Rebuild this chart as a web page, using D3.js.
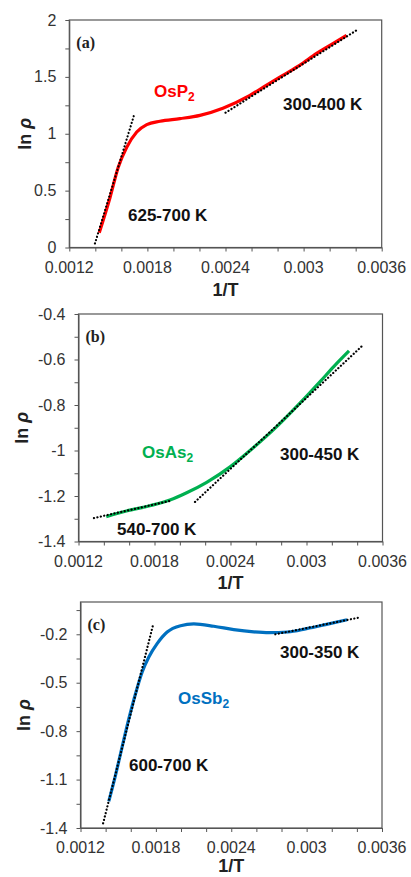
<!DOCTYPE html>
<html><head><meta charset="utf-8">
<script src="https://cdn.jsdelivr.net/npm/d3@7"></script>
<style>body{margin:0;background:#fff}svg{display:block}</style></head>
<body><svg id="chart" width="411" height="877"></svg>
<script>
// ---- data ----
const xTickLabels = [0.0012, 0.0018, 0.0024, 0.003, 0.0036];
const xMinorTicks = [0.0012,0.0014,0.0016,0.0018,0.0020,0.0022,0.0024,0.0026,0.0028,0.0030,0.0032,0.0034,0.0036];

// (a) OsP2
const ospX = [0.001430,0.001513,0.001576,0.001641,0.001718,0.001795,0.001897,0.002050,0.002204,0.002380,0.002588,0.002716,0.002844,0.002972,0.003100,0.003228,0.003330];
const ospY = [0.13,0.44,0.705,0.88,1.015,1.08,1.11,1.133,1.162,1.225,1.338,1.427,1.515,1.603,1.706,1.794,1.865];
const ospFitHighX = [0.001397,0.001697], ospFitHighY = [0.035,1.162];
const ospFitLowX = [0.002400,0.003410], ospFitLowY = [1.185,1.912];
const ospYTicks = [0,0.25,0.5,0.75,1,1.25,1.5,1.75,2];
const ospYLabels = [0,0.5,1,1.5,2];

// (b) OsAs2
const osaX = [0.001419,0.001578,0.001763,0.001922,0.002054,0.002212,0.002397,0.002582,0.002767,0.002952,0.003111,0.003217,0.003336];
const osaY = [-1.291,-1.266,-1.243,-1.218,-1.186,-1.140,-1.072,-0.987,-0.894,-0.790,-0.695,-0.630,-0.562];
const osaFitHighX = [0.001322,0.001935], osaFitHighY = [-1.297,-1.220];
const osaFitLowX = [0.002120,0.003436], osaFitLowY = [-1.226,-0.542];
const osaYTicks = [-1.4,-1.3,-1.2,-1.1,-1.0,-0.9,-0.8,-0.7,-0.6,-0.5,-0.4];
const osaYLabels = [-1.4,-1.2,-1,-0.8,-0.6,-0.4];

// (c) OsSb2
const ossX = [0.001425,0.001478,0.001531,0.001585,0.001638,0.001691,0.001744,0.001810,0.001890,0.001996,0.002102,0.002261,0.002420,0.002579,0.002700,0.002850,0.003000,0.003150,0.003322];
const ossY = [-1.235,-1.075,-0.899,-0.723,-0.568,-0.434,-0.341,-0.258,-0.186,-0.147,-0.136,-0.150,-0.171,-0.185,-0.190,-0.186,-0.165,-0.140,-0.110];
const ossFitHighX = [0.001380,0.001778], ossFitHighY = [-1.371,-0.140];
const ossFitLowX = [0.002751,0.003414], ossFitLowY = [-0.200,-0.097];
const ossYTicks = [-1.4,-1.25,-1.1,-0.95,-0.8,-0.65,-0.5,-0.35,-0.2,-0.05];
const ossYLabels = [-1.4,-1.1,-0.8,-0.5,-0.2];

// ---- layout ----
const panels = [
  {left:69.3,right:381.7,top:20,bottom:247.5,yDom:[0,2],yTicks:ospYTicks,yLabels:ospYLabels,
   x:ospX,y:ospY,color:"#ff0000",fits:[[ospFitHighX,ospFitHighY],[ospFitLowX,ospFitLowY]],
   tag:"(a)",name:"OsP",namePos:[154,97],yTitleX:25,xTitleY:296,
   notes:[{t:"300-400 K",x:283,y:110},{t:"625-700 K",x:128,y:221}]},
  {left:78.5,right:382.5,top:314,bottom:541.5,yDom:[-1.4,-0.4],yTicks:osaYTicks,yLabels:osaYLabels,
   x:osaX,y:osaY,color:"#00b050",fits:[[osaFitHighX,osaFitHighY],[osaFitLowX,osaFitLowY]],
   tag:"(b)",name:"OsAs",namePos:[142,458],yTitleX:22,xTitleY:589,
   notes:[{t:"300-450 K",x:280,y:460},{t:"540-700 K",x:117,y:535}]},
  {left:80.5,right:382,top:602,bottom:828,yDom:[-1.4,0],yTicks:ossYTicks,yLabels:ossYLabels,
   x:ossX,y:ossY,color:"#0070c0",fits:[[ossFitHighX,ossFitHighY],[ossFitLowX,ossFitLowY]],
   tag:"(c)",name:"OsSb",namePos:[178,704],yTitleX:24,xTitleY:872,
   notes:[{t:"300-350 K",x:280,y:658},{t:"600-700 K",x:129,y:771}]}
];

const svg = d3.select("#chart");
const sans = "'Liberation Sans', Arial, sans-serif";
const fmt = v => String(+v.toFixed(4));

panels.forEach(p => {
  const xs = d3.scaleLinear().domain([0.0012,0.0036]).range([p.left,p.right]);
  const ys = d3.scaleLinear().domain(p.yDom).range([p.bottom,p.top]);
  const g = svg.append("g");

  // data curve
  const curve = d3.line().x(d=>xs(d[0])).y(d=>ys(d[1])).curve(d3.curveMonotoneX);
  g.append("path").datum(d3.zip(p.x,p.y)).attr("d",curve)
    .attr("fill","none").attr("stroke",p.color).attr("stroke-width",3.2);

  // fits (dotted, drawn over the curve)
  const line = d3.line().x(d=>xs(d[0])).y(d=>ys(d[1]));
  p.fits.forEach(f => {
    g.append("path").datum(d3.zip(f[0],f[1])).attr("d",line)
      .attr("fill","none").attr("stroke","#000").attr("stroke-width",2.2)
      .attr("stroke-linecap","round").attr("stroke-dasharray","0.1 3.4");
  });

  // frame
  g.append("rect").attr("x",p.left).attr("y",p.top).attr("width",p.right-p.left)
    .attr("height",p.bottom-p.top).attr("fill","none").attr("stroke","#555").attr("stroke-width",1.2);

  // x axis
  const xa = g.append("g").attr("transform",`translate(0,${p.bottom})`)
    .call(d3.axisBottom(xs).tickValues(xMinorTicks).tickSize(4).tickSizeOuter(0).tickFormat(""));
  xa.select(".domain").attr("stroke","#555");
  xa.selectAll(".tick line").attr("stroke","#555");
  g.append("g").selectAll("text").data(xTickLabels).join("text")
    .attr("x",d=>xs(d)).attr("y",p.bottom+25).attr("text-anchor","middle")
    .attr("font-family",sans).attr("font-size",16).attr("fill","#333").text(fmt);

  // y axis
  const ya = g.append("g").attr("transform",`translate(${p.left},0)`)
    .call(d3.axisLeft(ys).tickValues(p.yTicks).tickSize(4).tickSizeOuter(0).tickFormat(""));
  ya.select(".domain").attr("stroke","#555");
  ya.selectAll(".tick line").attr("stroke","#555");
  g.append("g").selectAll("text").data(p.yLabels).join("text")
    .attr("x",p.left-13).attr("y",d=>ys(d)+5.5).attr("text-anchor","end")
    .attr("font-family",sans).attr("font-size",16).attr("fill","#333").text(fmt);

  // axis titles
  g.append("text").attr("x",(p.left+p.right)/2).attr("y",p.xTitleY).attr("text-anchor","middle")
    .attr("font-family",sans).attr("font-weight","bold").attr("font-size",18).attr("fill","#222").text("1/T");
  const yl = g.append("text").attr("transform",`translate(${p.yTitleX+6},${(p.top+p.bottom)/2}) rotate(-90)`)
    .attr("text-anchor","middle").attr("font-family",sans).attr("font-weight","bold").attr("font-size",18).attr("fill","#222");
  yl.append("tspan").text("ln ");
  yl.append("tspan").attr("font-style","italic").text("ρ");

  // panel tag
  g.append("text").attr("x",p.left+7).attr("y",p.top+28)
    .attr("font-family","'Liberation Serif', 'Times New Roman', serif").attr("font-weight","bold")
    .attr("font-size",16).attr("fill","#222").text(p.tag);

  // compound name
  const nm = g.append("text").attr("x",p.namePos[0]).attr("y",p.namePos[1])
    .attr("font-family",sans).attr("font-weight","bold").attr("font-size",17).attr("fill",p.color);
  nm.append("tspan").text(p.name);
  nm.append("tspan").attr("font-size",12).attr("dy",4).text("2");

  // temperature range notes
  g.append("g").selectAll("text").data(p.notes).join("text")
    .attr("x",d=>d.x).attr("y",d=>d.y).attr("font-family",sans).attr("font-weight","bold")
    .attr("font-size",17).attr("fill","#111").text(d=>d.t);
});
</script></body></html>
